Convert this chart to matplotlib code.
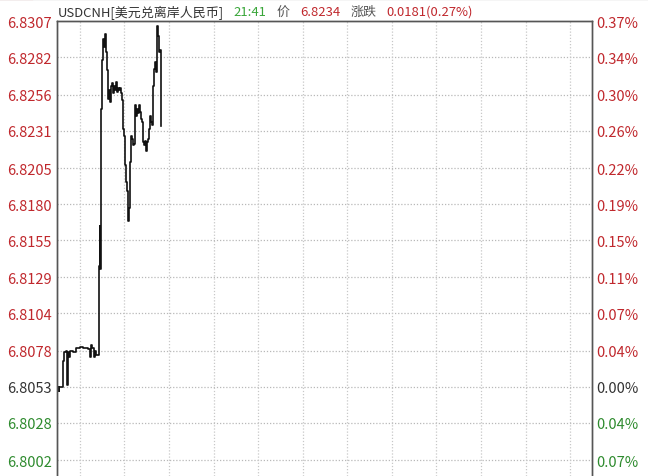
import matplotlib.pyplot as plt
from matplotlib.lines import Line2D

plt.rcParams['font.family'] = ['Noto Sans CJK SC', 'DejaVu Sans']

# minutes since session start and price
minutes = [0, 2, 4, 5, 11, 14, 16, 18, 24, 26, 28, 32, 35, 41, 49, 56, 61, 70, 79, 83,
           87, 89, 94, 98, 101, 105, 109, 111, 113, 114, 115, 116, 117, 118, 121, 123,
           125, 127, 129, 131, 132, 135, 137, 139, 141, 144, 147, 149, 152, 155, 157,
           160, 164, 166, 169, 172, 174, 177, 179, 181, 184, 186, 189, 191, 192, 194,
           197, 200, 202, 205, 208, 210, 212, 215, 218, 220, 223, 226, 228, 231, 234,
           236, 239, 241, 244, 246, 249, 252, 254, 256, 258, 261, 263, 265, 267, 269,
           271, 272, 274, 276, 278, 279]
prices = [6.8052, 6.8053, 6.8050, 6.8053, 6.8053, 6.8058, 6.8071, 6.8077, 6.8078, 6.8054,
          6.8077, 6.8074, 6.8078, 6.8077, 6.8080, 6.8080, 6.8081, 6.8080, 6.8080, 6.8079,
          6.8074, 6.8082, 6.8080, 6.8074, 6.8078, 6.8075, 6.8075, 6.8082, 6.8137, 6.8165,
          6.8135, 6.8151, 6.8168, 6.8246, 6.8280, 6.8295, 6.8289, 6.8297, 6.8298, 6.8286,
          6.8273, 6.8260, 6.8253, 6.8259, 6.8251, 6.8262, 6.8264, 6.8257, 6.8262, 6.8259,
          6.8265, 6.8258, 6.8261, 6.8259, 6.8261, 6.8257, 6.8252, 6.8232, 6.8227, 6.8207,
          6.8195, 6.8189, 6.8175, 6.8168, 6.8177, 6.8209, 6.8227, 6.8225, 6.8221, 6.8222,
          6.8232, 6.8249, 6.8241, 6.8246, 6.8243, 6.8249, 6.8244, 6.8239, 6.8237, 6.8223,
          6.8221, 6.8224, 6.8217, 6.8223, 6.8225, 6.8232, 6.8241, 6.8237, 6.8235, 6.8244,
          6.8262, 6.8274, 6.8279, 6.8272, 6.8290, 6.8304, 6.8297, 6.8288, 6.8286, 6.8287,
          6.8269, 6.8234]

prev_close = 6.8053
price_ticks = [6.8307, 6.8282, 6.8256, 6.8231, 6.8205, 6.8180, 6.8155, 6.8129,
               6.8104, 6.8078, 6.8053, 6.8028, 6.8002]
pct_labels = ['0.37%', '0.34%', '0.30%', '0.26%', '0.22%', '0.19%', '0.15%', '0.11%',
              '0.07%', '0.04%', '0.00%', '0.04%', '0.07%']
session_minutes = 1440

red = '#c0282d'
green = '#2e8b2e'
base_col = '#333333'

fig = plt.figure(figsize=(6.48, 4.77), dpi=100)
ax = fig.add_axes([0.0887, 0.0, 0.8256, 0.9532])

ax.plot(minutes, prices, color='#111111', lw=1.2, drawstyle='steps-post')

ax.set_xlim(0, session_minutes)
ax.set_ylim(6.7991, price_ticks[0])

# grid
for p in price_ticks[1:]:
    ax.axhline(p, color='#b8b8b8', lw=0.9, ls=(0, (1, 1.5)), zorder=0)
for k in range(12):
    ax.axvline((k + 0.5) * session_minutes / 12, color='#c8c8c8', lw=0.9,
               ls=(0, (1, 1.5)), zorder=0)

ax.set_xticks([])
ax.set_yticks(price_ticks)
ax.set_yticklabels([f'{p:.4f}' for p in price_ticks], fontsize=10.5)
ax.tick_params(axis='y', length=0, pad=4)

ax2 = ax.twinx()
ax2.set_ylim(ax.get_ylim())
ax2.set_yticks(price_ticks)
ax2.set_yticklabels(pct_labels, fontsize=10.5)
ax2.tick_params(axis='y', length=0, pad=3)

def col(p):
    if p > prev_close + 1e-6:
        return red
    if p < prev_close - 1e-6:
        return green
    return base_col

for a in (ax, ax2):
    for lab, p in zip(a.get_yticklabels(), price_ticks):
        lab.set_color(col(p))
    a.spines['bottom'].set_visible(False)
    for s in ('left', 'right', 'top'):
        a.spines[s].set_color('#555555')
        a.spines[s].set_linewidth(1)

# header
hy = 1 - 12.5 / 477
hs = 9.4
fig.text(58 / 648, hy, 'USDCNH[美元兑离岸人民币]', color='#333333', fontsize=hs, va='center')
fig.text(233 / 648, hy, '21:41', color='#3aa63a', fontsize=hs, va='center')
fig.text(277 / 648, hy, '价', color='#555555', fontsize=hs, va='center')
fig.text(300 / 648, hy, '6.8234', color=red, fontsize=hs, va='center')
fig.text(351 / 648, hy, '涨跌', color='#555555', fontsize=hs, va='center')
fig.text(386 / 648, hy, '0.0181(0.27%)', color=red, fontsize=hs, va='center')

# top border strip
fig.add_artist(Line2D([0, 1], [0.999, 0.999], color='#cfcfcf', lw=1))
fig.add_artist(Line2D([0, 32 / 648], [0.999, 0.999], color='#d04040', lw=1.5))

fig.savefig('out.png', dpi=100)
